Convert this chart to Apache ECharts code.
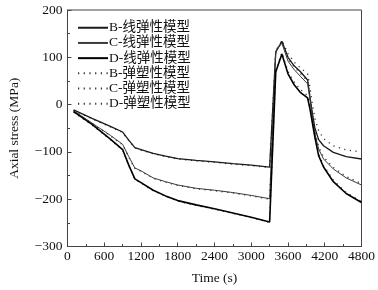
<!DOCTYPE html>
<html><head><meta charset="utf-8">
<script src="https://cdn.jsdelivr.net/npm/echarts@6/dist/echarts.min.js"></script>
<style>html,body{margin:0;padding:0;background:#fff}#c{width:378px;height:290px}</style>
</head><body><div id="c"></div>
<script>
var times = [100, 400, 700, 900, 1000, 1100, 1200, 1400, 1600, 1800, 2100, 2400, 2700, 3000, 3300, 3400, 3500, 3600, 3700, 3800, 3920, 3960, 4000, 4040, 4100, 4180, 4340, 4550, 4800];
var bLinear = [-11, -29, -46, -58, -75, -91, -95, -103, -109, -114, -118, -121, -125, -128, -132, 111, 134, 100, 82, 70, 52, 15, -20, -50, -74, -87, -101, -110, -115];
var cLinear = [-13, -39, -65, -84, -110, -134, -140, -155, -163, -170, -177, -181, -186, -192, -199, 113, 130, 92, 74, 60, 44, 10, -30, -62, -94, -115, -136, -155, -170];
var dLinear = [-15, -42, -73, -95, -128, -157, -165, -181, -193, -203, -212, -220, -229, -238, -248, 69, 107, 65, 42, 26, 14, -10, -40, -70, -108, -132, -163, -188, -207];
var bPlastic = [-12, -30, -47, -59, -76, -92, -96, -104, -110, -115, -119, -122, -126, -129, -133, 112, 136, 108, 90, 78, 65, 35, 0, -30, -55, -72, -87, -96, -100];
var cPlastic = [-14, -40, -66, -85, -111, -135, -141, -156, -164, -171, -178, -182, -187, -193, -200, 115, 132, 97, 80, 66, 50, 16, -24, -57, -89, -111, -133, -152, -167];
var dPlastic = [-16, -43, -74, -96, -129, -158, -166, -182, -194, -204, -213, -221, -230, -239, -249, 72, 110, 70, 48, 32, 19, -5, -36, -66, -104, -129, -160, -186, -205];
var seriesNames = ['B-线弹性模型', 'C-线弹性模型', 'D-线弹性模型', 'B-弹塑性模型', 'C-弹塑性模型', 'D-弹塑性模型'];
var xTicks = [0, 600, 1200, 1800, 2400, 3000, 3600, 4200, 4800];
var yTicks = [-300, -200, -100, 0, 100, 200];

var FONT = "'Liberation Serif', 'Noto Sans CJK SC', serif";
function pairs(vals) { return times.map(function (t, i) { return [t, vals[i]]; }); }
var styles = [
  { color: '#1a1a1a', width: 1.3, type: 'solid' },
  { color: '#3a3a3a', width: 1.0, type: 'solid' },
  { color: '#000000', width: 1.6, type: 'solid' },
  { color: '#333333', width: 1.3, type: [1.2, 4.5] },
  { color: '#333333', width: 1.3, type: [1.2, 4.5] },
  { color: '#333333', width: 1.3, type: [1.2, 4.5] }
];
var dataSets = [bLinear, cLinear, dLinear, bPlastic, cPlastic, dPlastic];
var series = seriesNames.map(function (n, i) {
  return {
    name: n, type: 'line', data: pairs(dataSets[i]), symbol: 'none', smooth: false,
    lineStyle: { color: styles[i].color, width: styles[i].width, type: styles[i].type },
    itemStyle: { color: styles[i].color },
    z: i < 3 ? 3 : 2
  };
});

var chart = echarts.init(document.getElementById('c'), null, { renderer: 'canvas' });
chart.setOption({
  animation: false,
  backgroundColor: '#fff',
  grid: { left: 64, right: 16, top: 10, bottom: 41, show: true, borderColor: '#444', borderWidth: 1, backgroundColor: 'transparent' },
  legend: {
    data: seriesNames, orient: 'vertical', left: 77, top: 21,
    itemWidth: 30, itemHeight: 14, itemGap: 1.7, padding: 0,
    itemStyle: { opacity: 0 },
    textStyle: { fontFamily: FONT, fontSize: 13.5, color: '#111', padding: [0, 0, 0, -4] }
  },
  xAxis: {
    type: 'value', min: xTicks[0], max: xTicks[xTicks.length - 1], interval: 600,
    name: 'Time (s)', nameLocation: 'middle', nameGap: 25,
    nameTextStyle: { fontFamily: FONT, fontSize: 13.5, color: '#111' },
    axisLine: { show: true, onZero: false, lineStyle: { color: '#444', width: 1 } },
    axisTick: { show: true, inside: true, length: 4, lineStyle: { color: '#444' } },
    minorTick: { show: true, splitNumber: 2, length: 2.5, lineStyle: { color: '#444' } },
    splitLine: { show: false },
    axisLabel: { fontFamily: FONT, fontSize: 13.5, color: '#111', margin: 3, formatter: function (v) { return String(v); } }
  },
  yAxis: {
    type: 'value', min: yTicks[0], max: yTicks[yTicks.length - 1], interval: 100,
    name: 'Axial stress (MPa)', nameLocation: 'middle', nameGap: 46,
    nameTextStyle: { fontFamily: FONT, fontSize: 13.5, color: '#111' },
    axisLine: { show: true, onZero: false, lineStyle: { color: '#444', width: 1 } },
    axisTick: { show: true, inside: true, length: 4, lineStyle: { color: '#444' } },
    minorTick: { show: true, splitNumber: 2, length: 2.5, lineStyle: { color: '#444' } },
    splitLine: { show: false },
    axisLabel: {
      fontFamily: FONT, fontSize: 13.5, color: '#111', margin: 5,
      formatter: function (v) { return String(v).replace('-', '\u2212'); }
    }
  },
  series: series
});
</script></body></html>
